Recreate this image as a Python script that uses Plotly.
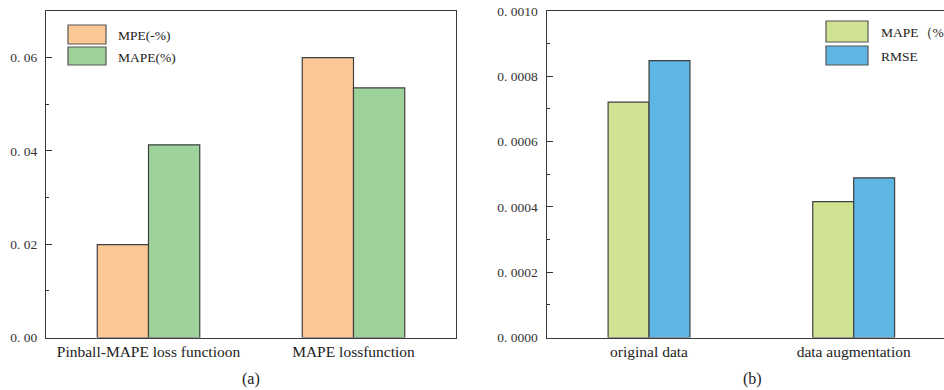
import plotly.graph_objects as go

# ---- data ----
cats_a = ["Pinball-MAPE loss functioon", "MAPE lossfunction"]
mpe_a = [0.0199, 0.0600]
mape_a = [0.0413, 0.0535]

cats_b = ["original data", "data augmentation"]
mape_b = [0.000721, 0.000416]
rmse_b = [0.000848, 0.000489]

ytick_a_vals = [0.00, 0.02, 0.04, 0.06]
ytick_a_text = ["0. 00", "0. 02", "0. 04", "0. 06"]
ytick_b_vals = [0.0, 0.0002, 0.0004, 0.0006, 0.0008, 0.0010]
ytick_b_text = ["0. 0000", "0. 0002", "0. 0004", "0. 0006", "0. 0008", "0. 0010"]

legend_a = ["MPE(-%)", "MAPE(%)"]
legend_b = ["MAPE（%）", "RMSE"]

C_ORANGE = "#FAC795"
C_GREEN = "#9DD29B"
C_LGREEN = "#D0E392"
C_BLUE = "#5FB6E5"
EDGE = "#3f3f3f"

W, H = 944, 390
SERIF = "Liberation Serif, Times New Roman, serif"

fig = go.Figure()

def bar(x, y, color, xa, ya, name, offset, width):
    return go.Bar(x=x, y=y, marker=dict(color=color, line=dict(color=EDGE, width=1.2)),
                  offset=offset, width=width,
                  xaxis=xa, yaxis=ya, name=name, showlegend=False)

fig.add_trace(bar(cats_a, mpe_a, C_ORANGE, "x", "y", legend_a[0], -0.25, 0.25))
fig.add_trace(bar(cats_a, mape_a, C_GREEN, "x", "y", legend_a[1], 0.0, 0.25))
fig.add_trace(bar(cats_b, mape_b, C_LGREEN, "x2", "y2", legend_b[0], -0.2, 0.2))
fig.add_trace(bar(cats_b, rmse_b, C_BLUE, "x2", "y2", legend_b[1], 0.0, 0.2))

def px_x(p):
    return p / W

def px_y(p):
    return 1 - p / H

ydom = [px_y(337.5), px_y(11)]
xfont = dict(family=SERIF, size=15.5, color="#222")
yfont = dict(family=SERIF, size=13.5, color="#333")

fig.update_layout(
    width=W, height=H,
    margin=dict(l=0, r=0, t=0, b=0),
    paper_bgcolor="white", plot_bgcolor="white",
    barmode="overlay",
    xaxis=dict(domain=[px_x(46), px_x(456)], range=[-0.5, 1.5], anchor="y",
               showline=True, linecolor="#3a3a3a", linewidth=1.3, mirror=True,
               showgrid=False, zeroline=False, ticks="", automargin=False,
               tickfont=xfont),
    yaxis=dict(domain=ydom, range=[0, 0.07], anchor="x",
               showline=True, linecolor="#3a3a3a", linewidth=1.3, mirror=True,
               showgrid=False, zeroline=False, automargin=False,
               ticks="inside", ticklen=6, tickwidth=1, tickcolor="#333",
               ticklabelstandoff=5,
               tickvals=ytick_a_vals, ticktext=ytick_a_text, tickfont=yfont,
               minor=dict(ticks="inside", ticklen=3, tickwidth=1, tickcolor="#333",
                          tickvals=[0.01, 0.03, 0.05])),
    xaxis2=dict(domain=[px_x(546.7), 1.0], range=[-0.5, 1.5 - 12 / 204.5], anchor="y2",
                showline=True, linecolor="#3a3a3a", linewidth=1.3, mirror=True,
                showgrid=False, zeroline=False, ticks="", automargin=False,
                tickfont=xfont),
    yaxis2=dict(domain=ydom, range=[0, 0.001], anchor="x2",
                showline=True, linecolor="#3a3a3a", linewidth=1.3, mirror=False,
                showgrid=False, zeroline=False, automargin=False,
                ticks="inside", ticklen=6, tickwidth=1, tickcolor="#333",
                ticklabelstandoff=5,
                tickvals=ytick_b_vals, ticktext=ytick_b_text, tickfont=yfont,
                minor=dict(ticks="inside", ticklen=3, tickwidth=1, tickcolor="#333",
                           tickvals=[0.0001, 0.0003, 0.0005, 0.0007, 0.0009])),
)

# ---- manual legends (paper coords) ----
shapes = []
annotations = []

def legend_block(x0, x1, rows, labels, colors, tx):
    for (y0, y1), lab, col in zip(rows, labels, colors):
        shapes.append(dict(type="rect", xref="paper", yref="paper",
                           x0=px_x(x0), x1=px_x(x1), y0=px_y(y1), y1=px_y(y0),
                           fillcolor=col, line=dict(color="#555", width=1.2)))
        annotations.append(dict(xref="paper", yref="paper", x=px_x(tx), y=px_y((y0 + y1) / 2 + 1),
                                text=lab, showarrow=False, xanchor="left", yanchor="middle",
                                font=dict(family=SERIF, size=13.5, color="#222")))

legend_block(68, 106, [(25, 44), (47, 65)], legend_a, [C_ORANGE, C_GREEN], 116)
legend_block(826, 868, [(21, 42), (46, 65)], legend_b, [C_LGREEN, C_BLUE], 879)

for lab, xc in [("(a)", 251), ("(b)", 752)]:
    annotations.append(dict(xref="paper", yref="paper", x=px_x(xc), y=px_y(379),
                            text=lab, showarrow=False, xanchor="center", yanchor="middle",
                            font=dict(family=SERIF, size=16, color="#222")))

fig.update_layout(shapes=shapes, annotations=annotations)

fig.write_html("out.html")
